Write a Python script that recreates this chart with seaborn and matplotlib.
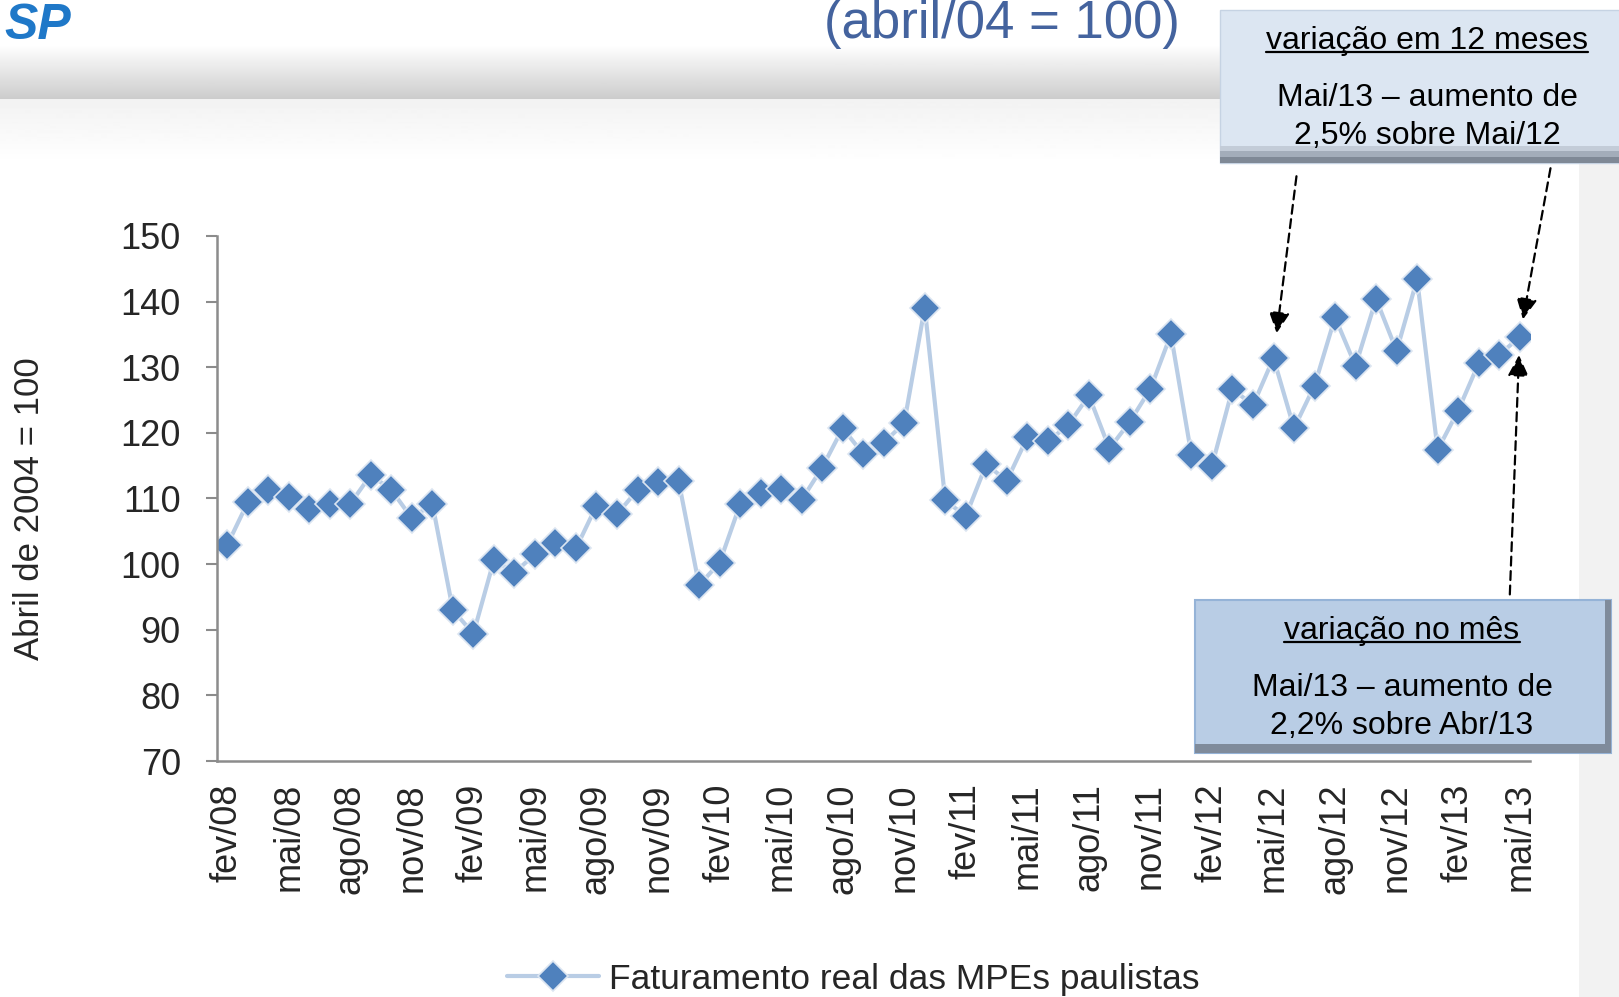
import numpy as np
import pandas as pd
import seaborn as sns
import matplotlib.pyplot as plt
from matplotlib.patches import Rectangle
from matplotlib.lines import Line2D

# faturamento real das MPEs paulistas, fev/08 a mai/13 (abril/04 = 100)
faturamento = [
    102.9, 109.4, 111.3, 110.3, 108.4, 109.2, 109.2, 113.6, 111.3, 107.0, 109.2,
    93.0, 89.4, 100.6, 98.7, 101.5, 103.2, 102.4, 108.9, 107.6, 111.3, 112.5, 112.7,
    96.8, 100.2, 109.1, 110.8, 111.4, 109.8, 114.7, 120.7, 116.8, 118.5, 121.5, 139.1,
    109.7, 107.3, 115.2, 112.7, 119.3, 118.7, 121.2, 125.7, 117.6, 121.7, 126.7, 135.0,
    116.6, 115.0, 126.7, 124.2, 131.4, 120.7, 127.2, 137.6, 130.2, 140.4, 132.5, 143.4,
    117.4, 123.4, 130.6, 131.9, 134.6,
]
rotulos_x = ['fev/08', 'mai/08', 'ago/08', 'nov/08', 'fev/09', 'mai/09', 'ago/09',
             'nov/09', 'fev/10', 'mai/10', 'ago/10', 'nov/10', 'fev/11', 'mai/11',
             'ago/11', 'nov/11', 'fev/12', 'mai/12', 'ago/12', 'nov/12', 'fev/13',
             'mai/13']
ticks_y = [70, 80, 90, 100, 110, 120, 130, 140, 150]

df = pd.DataFrame({'valor': faturamento})
df['pos'] = np.arange(len(df))

sns.set_style('white')
plt.rcParams['font.family'] = ['Liberation Sans', 'DejaVu Sans']

fig = plt.figure(figsize=(16.19, 9.97), dpi=100)

# fundo: faixa cinza do cabecalho
bg = fig.add_axes([0, 0, 1, 1], zorder=0)
grad = np.ones((997, 1))
rows = np.arange(997)
m1 = (rows >= 45) & (rows < 100)
m2 = (rows >= 100) & (rows < 165)
grad[m1, 0] = np.linspace(1.0, 0.80, m1.sum())
grad[m2, 0] = np.linspace(0.95, 1.0, m2.sum())
bg.imshow(grad, aspect='auto', cmap='gray', vmin=0, vmax=1, extent=[0, 1, 0, 1])
bg.add_patch(Rectangle((0.975, 0.0), 0.025, 0.90, color='#f2f2f2', lw=0))
bg.set_xlim(0, 1)
bg.set_ylim(0, 1)
bg.axis('off')

ax = fig.add_axes([0.134, 0.2367, 0.811, 0.5266], zorder=2)
ax.set_facecolor('white')
sns.lineplot(data=df, x='pos', y='valor', ax=ax, color='#b9cde5', lw=3,
             marker='D', markersize=15, markerfacecolor='#4f81bd',
             markeredgecolor='#dbe5f1', markeredgewidth=1.2,
             label='Faturamento real das MPEs paulistas')

ax.set_xlim(-0.5, len(df) - 0.5)
ax.set_ylim(70, 150)
ax.set_yticks(ticks_y)
ax.set_xticks(np.arange(0, len(df), 3))
ax.set_xticklabels(rotulos_x, rotation=90, fontsize=26)
ax.set_xticks(np.arange(-0.5, len(df), 3), minor=True)
ax.tick_params(axis='x', which='major', length=0, pad=16)
ax.tick_params(axis='x', which='minor', length=8, width=1.5, color='#8c8c8c', direction='out')
ax.tick_params(axis='y', length=8, width=1.5, color='#8c8c8c', direction='out',
               labelsize=26, pad=18, left=True)
ax.set_xlabel('')
ax.set_ylabel('')
for s in ['top', 'right']:
    ax.spines[s].set_visible(False)
for s in ['left', 'bottom']:
    ax.spines[s].set_color('#8c8c8c')
    ax.spines[s].set_linewidth(1.8)
ax.get_legend().remove()

fig.text(0.018, 0.49, 'Abril de 2004 = 100', rotation=90, ha='center', va='center',
         fontsize=25)

# titulo e logo
fig.text(0.619, 0.962, '(abril/04 = 100)', ha='center', va='baseline',
         fontsize=38, color='#44639e')
fig.text(0.003, 0.961, 'SP', ha='left', va='baseline', fontsize=36,
         fontweight='bold', fontstyle='italic', color='#1f78c8')

# legenda
h, l = ax.get_legend_handles_labels()
fig.legend(h, l, loc='center', bbox_to_anchor=(0.527, 0.018), frameon=False,
           fontsize=25.5, handlelength=2.6, handletextpad=0.3)

# caixas de texto
ov = fig.add_axes([0, 0, 1, 1], zorder=3)
ov.set_xlim(0, 1)
ov.set_ylim(0, 1)
ov.axis('off')

ov.add_patch(Rectangle((0.7535, 0.8365), 0.25, 0.1535, facecolor='#dce6f2',
                       edgecolor='#c6d3e3', lw=1))
ov.add_patch(Rectangle((0.7535, 0.8365), 0.25, 0.006, facecolor='#7f8996', lw=0))
ov.add_patch(Rectangle((0.7535, 0.8425), 0.25, 0.006, facecolor='#a3adba', lw=0))
ov.add_patch(Rectangle((0.7535, 0.8485), 0.25, 0.005, facecolor='#c3ccd8', lw=0))

ov.add_patch(Rectangle((0.738, 0.2447), 0.257, 0.1533, facecolor='#b9cde5',
                       edgecolor='#95b3d7', lw=1.5))
ov.add_patch(Rectangle((0.738, 0.2447), 0.257, 0.009, facecolor='#7f8b9b', lw=0))
ov.add_patch(Rectangle((0.9915, 0.2447), 0.0035, 0.1533, facecolor='#7f8b9b', lw=0))

textos = [
    (0.8815, 0.959, 'variação em 12 meses', True),
    (0.8815, 0.902, 'Mai/13 – aumento de', False),
    (0.8815, 0.864, '2,5% sobre Mai/12', False),
    (0.866, 0.367, 'variação no mês', True),
    (0.866, 0.310, 'Mai/13 – aumento de', False),
    (0.866, 0.272, '2,2% sobre Abr/13', False),
]
objs = []
for x, y, s, und in textos:
    t = ov.text(x, y, s, ha='center', va='center', fontsize=23, color='black')
    if und:
        objs.append(t)

# setas tracejadas
ult = len(df) - 1
alvo_12m = ult - 12
seta = dict(arrowstyle='-|>', linestyle=(0, (4, 2.5)), lw=1.6, color='black',
            mutation_scale=32)
ax.annotate('', xy=(alvo_12m, faturamento[alvo_12m]), xytext=(0.801, 0.826),
            textcoords='figure fraction', arrowprops=dict(seta, shrinkB=18),
            annotation_clip=False, zorder=5)
ax.annotate('', xy=(ult, faturamento[ult]), xytext=(0.958, 0.834),
            textcoords='figure fraction', arrowprops=dict(seta, shrinkB=13),
            annotation_clip=False, zorder=5)
ax.annotate('', xy=(ult, faturamento[ult]), xytext=(0.9325, 0.401),
            textcoords='figure fraction', arrowprops=dict(seta, shrinkB=13),
            annotation_clip=False, zorder=5)

# sublinhado dos titulos das caixas
fig.canvas.draw()
r = fig.canvas.get_renderer()
for t in objs:
    bb = t.get_window_extent(r).transformed(fig.transFigure.inverted())
    ov.add_line(Line2D([bb.x0, bb.x1], [bb.y0 + 0.004, bb.y0 + 0.004],
                       color='black', lw=1.6))

fig.savefig('out.png', dpi=100)
